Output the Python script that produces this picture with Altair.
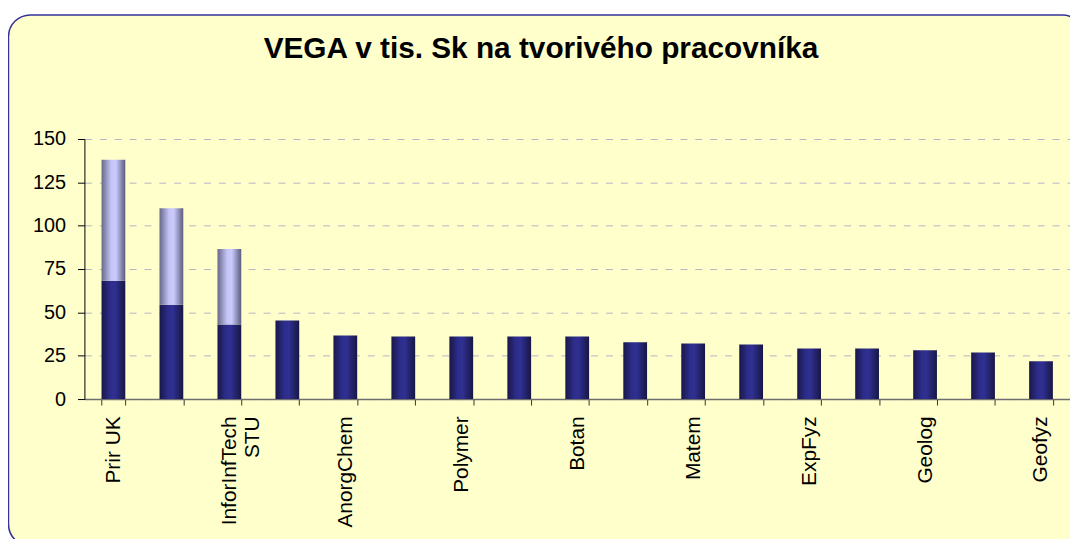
import json
import altair as alt
import pandas as pd

# ---- data ----
categories = ["Prir UK", "", "InforInfTech\nSTU", "", "AnorgChem", "", "Polymer", "",
              "Botan", "", "Matem", "", "ExpFyz", "", "Geolog", "", "Geofyz"]
base_values = [68.2, 54.4, 43.0, 45.3, 36.7, 36.1, 36.1, 36.1, 36.1,
               32.7, 32.1, 31.5, 29.2, 29.2, 28.1, 26.9, 21.8]
extra_values = [69.8, 55.6, 43.5, 0, 0, 0, 0, 0, 0, 0, 0, 0, 0, 0, 0, 0, 0]
y_ticks = [0, 25, 50, 75, 100, 125, 150]
title_text = "VEGA v tis. Sk na tvorivého pracovníka"

df = pd.DataFrame({"idx": list(range(len(categories))),
                   "base": base_values, "extra": extra_values})
df["total"] = df["base"] + df["extra"]

FONT = "Liberation Sans"
label_expr = json.dumps([c.split("\n") for c in categories]) + "[datum.value]"

navy = alt.Gradient(gradient="linear", x1=0, x2=1, y1=0, y2=0, stops=[
    alt.GradientStop(color="#181848", offset=0),
    alt.GradientStop(color="#2C2C8A", offset=0.35),
    alt.GradientStop(color="#303092", offset=0.55),
    alt.GradientStop(color="#171745", offset=1)])
lavender = alt.Gradient(gradient="linear", x1=0, x2=1, y1=0, y2=0, stops=[
    alt.GradientStop(color="#686888", offset=0),
    alt.GradientStop(color="#C4C4F6", offset=0.4),
    alt.GradientStop(color="#CACAFC", offset=0.6),
    alt.GradientStop(color="#5C5C7C", offset=1)])

x_enc = alt.X("idx:O",
              scale=alt.Scale(paddingInner=0.59, paddingOuter=0.295),
              axis=alt.Axis(title=None, labelExpr=label_expr, labelAngle=-90,
                            labelFont=FONT, labelFontSize=21, labelColor="black",
                            labelPadding=11, tickSize=6, tickColor="#333333",
                            tickBand="extent", domainColor="#6E6E6E",
                            domainWidth=1.5, grid=False))
y_scale = alt.Scale(domain=[0, 150], nice=False)
y_axis = alt.Axis(title=None, values=y_ticks, labelFont=FONT, labelFontSize=20,
                  labelColor="black", labelPadding=12, tickSize=7,
                  tickColor="black", domainColor="black", grid=True,
                  gridColor="#B4B4C8", gridDash=[7, 8], gridWidth=1)

frame_data = alt.Data(values=[{"k": 0}])
mask = alt.Chart(frame_data).mark_rect(
    cornerRadius=42, fillOpacity=0, stroke="white", strokeWidth=40
).encode(x=alt.value(-96.5), x2=alt.value(1027), y=alt.value(-145), y2=alt.value(430))
border = alt.Chart(frame_data).mark_rect(
    cornerRadius=22, fillOpacity=0, stroke="#333399", strokeWidth=1.5
).encode(x=alt.value(-76.5), x2=alt.value(1007), y=alt.value(-125), y2=alt.value(410))
title = alt.Chart(frame_data).mark_text(
    text=title_text, font=FONT, fontSize=30, fontWeight="bold", color="black",
    align="center", baseline="alphabetic"
).encode(x=alt.value(460), y=alt.value(-82))

bars_base = alt.Chart(df).mark_bar(color=navy).encode(
    x=x_enc, y=alt.Y("base:Q", scale=y_scale, axis=y_axis))
bars_top = alt.Chart(df).transform_filter("datum.extra > 0").mark_bar(color=lavender).encode(
    x=x_enc, y=alt.Y("total:Q", scale=y_scale), y2="base:Q")

chart = alt.layer(mask, border, title, bars_base, bars_top).properties(
    width=993, height=262,
    autosize=alt.AutoSizeParams(type="none"),
    padding={"left": 77, "top": 130, "right": 0, "bottom": 139},
    background="#FFFFCC",
).configure_view(stroke=None)

chart.save("out.html", embed_options={"renderer": "svg", "actions": False})
